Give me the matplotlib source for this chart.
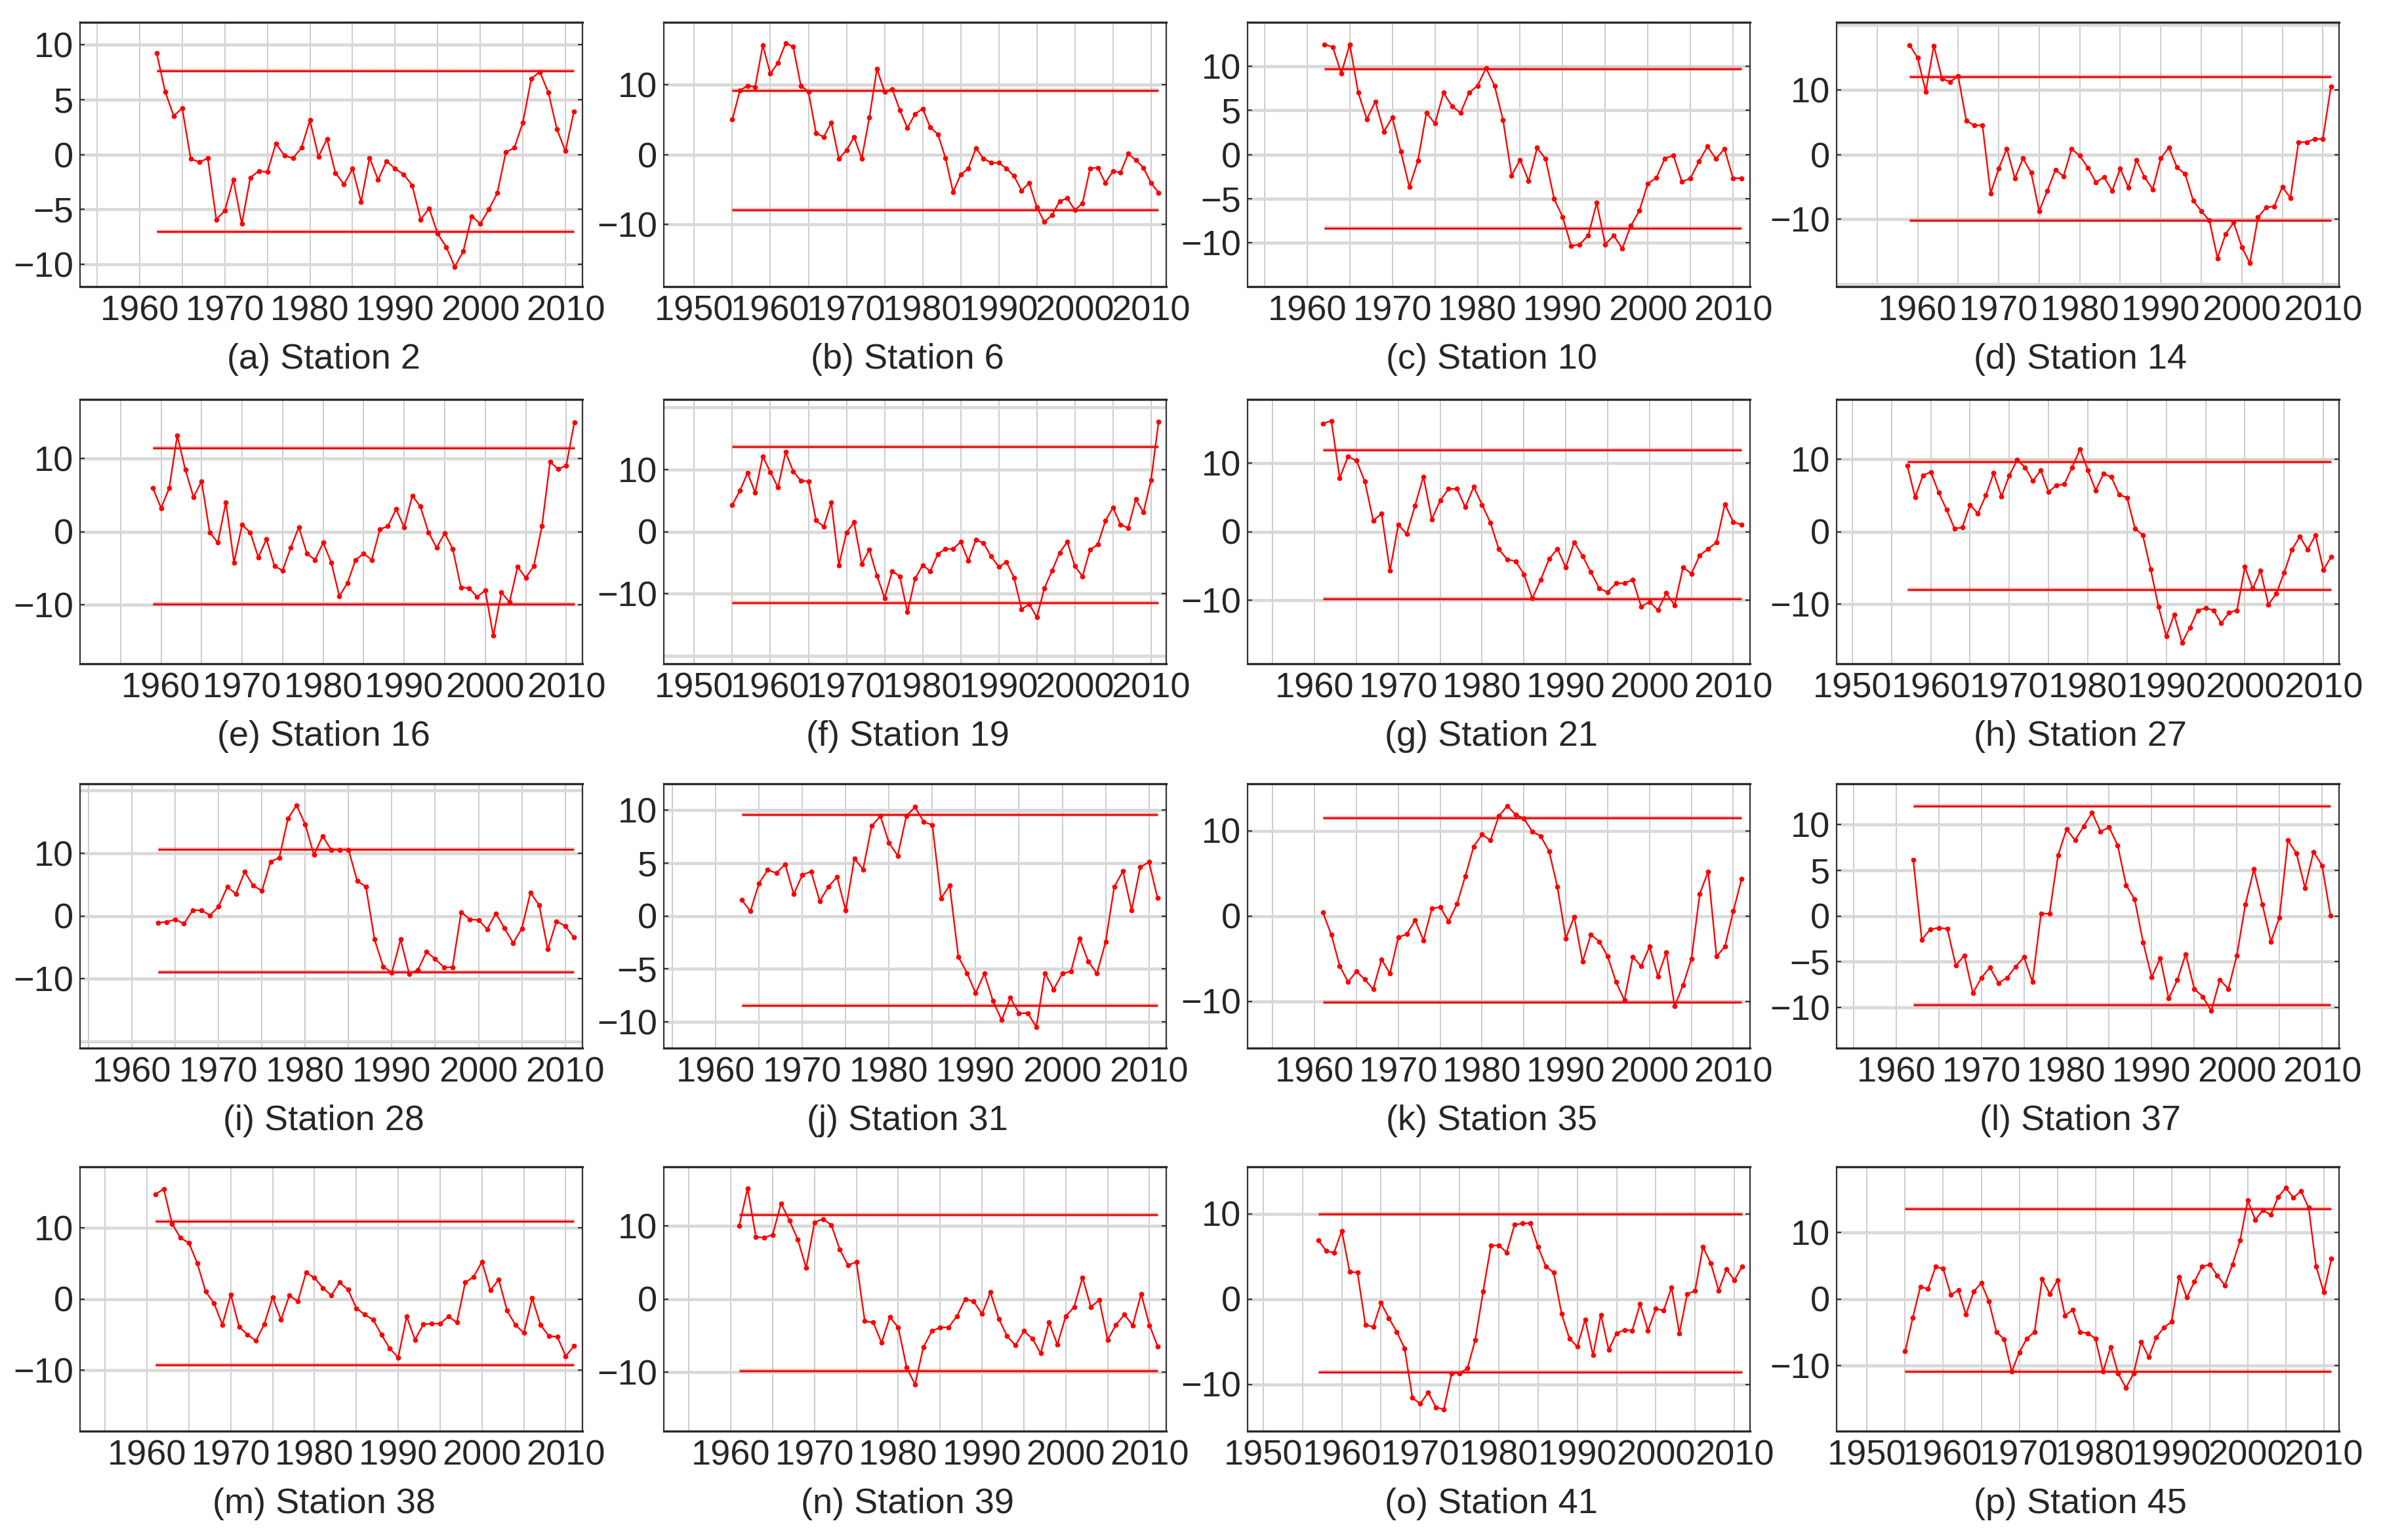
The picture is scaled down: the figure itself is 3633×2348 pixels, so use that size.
#!/usr/bin/env python3
"""
Sequential trend statistic per station (16 panels) with upper / lower threshold lines.
"""

import numpy as np
import matplotlib
matplotlib.use("Agg")
import matplotlib.pyplot as plt

# ----------------------------------------------------------------------
# Data
# ----------------------------------------------------------------------
letters = list("abcdefghijklmnop")
stations = ["2", "6", "10", "14", "16", "19", "21", "27",
            "28", "31", "35", "37", "38", "39", "41", "45"]
start_years = [1962, 1955, 1962, 1959, 1959, 1955, 1961, 1957,
               1963, 1963, 1961, 1962, 1961, 1961, 1957, 1955]
end_year = 2011

upper = [7.6, 9.2, 9.7, 12.0, 11.4, 13.7, 11.9, 9.7,
         10.6, 9.56, 11.5, 12.0, 10.9, 11.5, 10.0, 13.6]
lower = [-7.0, -8.0, -8.4, -10.2, -9.9, -11.5, -9.8, -8.0,
         -8.9, -8.46, -10.1, -9.7, -9.2, -9.8, -8.6, -10.9]

st2 = [9.2, 5.7, 3.5, 4.2, -0.4, -0.7, -0.35, -5.9, -5.1, -2.3, -6.3, -2.1, -1.5, -1.6, 1.0,
       -0.1, -0.35, 0.6, 3.1, -0.2, 1.4, -1.7, -2.7, -1.3, -4.3, -0.3, -2.3, -0.6, -1.3, -1.8,
       -2.8, -5.9, -4.9, -7.2, -8.4, -10.2, -8.8, -5.6, -6.3, -5.0, -3.5, 0.2, 0.6, 2.9, 6.9,
       7.5, 5.6, 2.3, 0.3, 3.9]
st6 = [5.0, 9.2, 9.9, 9.7, 15.7, 11.6, 13.2, 16.0, 15.5, 9.9, 9.0, 3.1, 2.5, 4.6, -0.6,
       0.6, 2.5, -0.6, 5.3, 12.3, 9.0, 9.4, 6.4, 3.8, 5.8, 6.6, 3.9, 2.9, -0.5, -5.4,
       -2.9, -2.0, 0.9, -0.6, -1.2, -1.2, -2.0, -3.1, -5.2, -4.1, -7.6, -9.7, -8.7, -6.7, -6.3,
       -8.0, -7.0, -2.0, -1.9, -4.1, -2.4, -2.6, 0.1, -0.8, -1.9, -4.1, -5.5]
st10 = [12.5, 12.2, 9.2, 12.5, 7.0, 4.0, 6.0, 2.6, 4.2, 0.3, -3.7, -0.7, 4.75, 3.5, 7.0,
        5.5, 4.7, 7.0, 7.8, 9.8, 7.8, 3.9, -2.4, -0.6, -3.0, 0.75, -0.5, -5.05, -7.1, -10.4,
        -10.2, -9.2, -5.5, -10.2, -9.2, -10.7, -8.1, -6.4, -3.3, -2.65, -0.45, -0.1, -3.1, -2.7, -0.8,
        0.9, -0.5, 0.65, -2.7, -2.7]
st14 = [16.9, 14.9, 9.7, 16.8, 11.7, 11.2, 12.1, 5.2, 4.5, 4.5, -6.0, -2.2, 0.9, -3.7, -0.6,
        -2.8, -8.75, -5.6, -2.4, -3.35, 0.85, -0.2, -2.05, -4.3, -3.5, -5.6, -2.2, -5.1, -0.9, -3.5,
        -5.4, -0.6, 1.1, -2.0, -3.0, -7.1, -8.75, -10.2, -16.0, -12.3, -10.5, -14.3, -16.8, -9.7, -8.2,
        -8.0, -5.0, -6.7, 1.9, 1.9, 2.4, 2.4, 10.5]
st16 = [5.9, 3.2, 5.9, 13.1, 8.4, 4.7, 6.85, -0.1, -1.5, 4.0, -4.2, 0.9, -0.1, -3.5, -1.05,
        -4.7, -5.3, -2.2, 0.6, -3.0, -3.85, -1.5, -4.2, -8.8, -7.0, -3.85, -3.0, -3.85, 0.3, 0.75,
        3.05, 0.6, 4.9, 3.4, -0.1, -2.2, -0.2, -2.4, -7.6, -7.7, -8.9, -8.0, -14.2, -8.3, -9.6,
        -4.8, -6.3, -4.7, 0.75, 9.5, 8.5, 9.0, 14.9]
st19 = [4.3, 6.6, 9.45, 6.3, 12.1, 9.6, 7.1, 12.8, 9.7, 8.2, 8.1, 1.8, 0.8, 4.7, -5.4,
        -0.15, 1.5, -5.2, -2.9, -7.1, -10.7, -6.4, -7.2, -13.0, -7.6, -5.4, -6.4, -3.6, -2.8, -2.8,
        -1.65, -4.7, -1.3, -1.85, -4.0, -5.7, -4.9, -7.4, -12.5, -11.7, -13.8, -9.1, -6.3, -3.4, -1.65,
        -5.6, -7.2, -2.9, -2.1, 1.7, 3.9, 1.1, 0.6, 5.2, 3.1, 8.3, 17.7]
st21 = [15.7, 16.1, 7.8, 10.9, 10.3, 7.3, 1.6, 2.6, -5.7, 1.0, -0.35, 3.8, 8.0, 1.8, 4.5,
        6.2, 6.2, 3.55, 6.5, 3.9, 1.3, -2.55, -4.05, -4.3, -6.2, -9.7, -7.0, -4.0, -2.5, -5.2,
        -1.55, -3.55, -5.9, -8.25, -8.8, -7.5, -7.5, -7.0, -10.9, -10.2, -11.4, -8.95, -10.7, -5.2, -6.1,
        -3.45, -2.5, -1.55, 4.0, 1.4, 1.0]
st27 = [9.15, 4.75, 7.8, 8.25, 5.4, 3.05, 0.45, 0.55, 3.7, 2.5, 5.0, 8.1, 4.85, 7.8, 9.9,
        8.9, 7.0, 8.5, 5.5, 6.4, 6.55, 8.9, 11.4, 8.5, 5.7, 8.0, 7.55, 5.1, 4.7, 0.45,
        -0.5, -5.2, -10.4, -14.5, -11.5, -15.4, -13.3, -10.9, -10.6, -10.9, -12.7, -11.2, -10.9, -4.9, -7.9,
        -5.4, -10.1, -8.6, -5.7, -2.5, -0.7, -2.5, -0.5, -5.3, -3.5]
st28 = [-1.05, -0.95, -0.55, -1.25, 0.9, 0.9, 0.1, 1.5, 4.6, 3.5, 7.0, 4.8, 4.0, 8.65, 9.25,
        15.45, 17.6, 14.5, 9.7, 12.7, 10.5, 10.5, 10.5, 5.55, 4.65, -3.75, -8.05, -9.0, -3.75, -9.2,
        -8.6, -5.7, -6.85, -8.15, -8.15, 0.6, -0.55, -0.65, -2.1, 0.4, -1.95, -4.3, -2.0, 3.7, 1.7,
        -5.3, -0.85, -1.6, -3.4]
st31 = [1.5, 0.45, 3.1, 4.35, 4.05, 4.9, 2.05, 3.9, 4.2, 1.4, 2.75, 3.7, 0.5, 5.45, 4.4,
        8.5, 9.45, 6.9, 5.7, 9.45, 10.3, 8.9, 8.6, 1.65, 2.9, -3.85, -5.4, -7.3, -5.45, -8.05,
        -9.85, -7.75, -9.2, -9.2, -10.5, -5.4, -6.95, -5.45, -5.25, -2.15, -4.3, -5.45, -2.45, 2.75, 4.25,
        0.55, 4.6, 5.1, 1.7]
st35 = [0.4, -2.2, -5.85, -7.75, -6.5, -7.45, -8.6, -5.1, -6.75, -2.5, -2.15, -0.5, -2.85, 0.85, 1.05,
        -0.65, 1.4, 4.65, 8.15, 9.55, 8.85, 11.7, 12.9, 11.9, 11.4, 9.9, 9.35, 7.6, 3.4, -2.65,
        -0.1, -5.35, -2.2, -3.0, -4.75, -7.75, -9.9, -4.8, -5.9, -3.6, -7.1, -4.25, -10.6, -8.1, -5.05,
        2.6, 5.2, -4.75, -3.6, 0.55, 4.35]
st37 = [6.1, -2.6, -1.45, -1.3, -1.4, -5.4, -4.3, -8.4, -6.75, -5.6, -7.3, -6.75, -5.55, -4.5, -7.2,
        0.25, 0.25, 6.6, 9.45, 8.25, 9.75, 11.25, 9.2, 9.65, 7.7, 3.35, 1.8, -2.9, -6.7, -4.6,
        -9.0, -7.0, -4.15, -7.95, -8.8, -10.35, -6.95, -7.95, -4.3, 1.25, 5.1, 1.25, -2.8, -0.15, 8.25,
        6.8, 3.05, 7.0, 5.5, 0.05]
st38 = [14.65, 15.4, 10.5, 8.55, 7.85, 5.0, 1.05, -0.6, -3.6, 0.6, -3.9, -5.0, -5.85, -3.55, 0.25,
        -2.9, 0.5, -0.35, 3.7, 2.95, 1.55, 0.5, 2.3, 1.3, -1.3, -2.2, -2.9, -5.0, -6.95, -8.2,
        -2.45, -5.7, -3.55, -3.45, -3.45, -2.45, -3.3, 2.3, 3.1, 5.2, 1.2, 2.75, -1.65, -3.65, -4.75,
        0.1, -3.65, -5.2, -5.3, -8.0, -6.6]
st39 = [10.0, 15.15, 8.5, 8.4, 8.8, 13.1, 10.75, 8.15, 4.25, 10.5, 10.95, 10.15, 6.8, 4.6, 5.1,
        -3.05, -3.2, -6.0, -2.5, -3.9, -9.4, -11.7, -6.6, -4.4, -3.9, -3.9, -2.35, 0.0, -0.35, -2.05,
        0.9, -2.7, -5.1, -6.35, -4.4, -5.4, -7.45, -3.2, -6.25, -2.35, -1.1, 2.95, -1.1, -0.15, -5.6,
        -3.55, -2.15, -3.6, 0.7, -3.6, -6.55]
st41 = [6.9, 5.65, 5.4, 8.0, 3.2, 3.1, -3.0, -3.3, -0.45, -2.25, -3.85, -5.8, -11.6, -12.3, -10.95,
        -12.7, -12.95, -8.7, -8.7, -8.15, -4.8, 0.85, 6.25, 6.3, 5.45, 8.7, 8.85, 8.9, 6.1, 3.8,
        3.1, -1.75, -4.65, -5.6, -2.4, -6.6, -1.85, -5.95, -4.0, -3.65, -3.7, -0.6, -3.7, -1.15, -1.35,
        1.35, -4.0, 0.6, 0.95, 6.1, 4.2, 1.0, 3.5, 2.2, 3.8]
st45 = [-7.9, -2.85, 1.85, 1.5, 4.85, 4.55, 0.65, 1.3, -2.35, 1.1, 2.4, -0.35, -5.0, -6.05, -10.95,
        -8.0, -5.95, -4.95, 3.0, 0.75, 2.8, -2.5, -1.65, -4.95, -5.2, -5.95, -10.95, -7.25, -11.25, -13.4,
        -11.25, -6.45, -8.75, -5.75, -4.3, -3.45, 3.35, 0.2, 2.6, 4.85, 5.2, 3.55, 2.05, 5.2, 8.8,
        14.85, 11.9, 13.4, 12.65, 15.35, 16.7, 15.25, 16.25, 13.75, 4.85, 1.0, 6.05]

series = [st2, st6, st10, st14, st16, st19, st21, st27,
          st28, st31, st35, st37, st38, st39, st41, st45]

# ----------------------------------------------------------------------
# Layout (pixels on a 3633 x 2348 canvas)
# ----------------------------------------------------------------------
W, H = 3633, 2348
col_left = [122, 1012, 1902, 2800]
col_width = 766
row_top = [34, 609, 1195, 1779]
row_height = 403

# symmetric y-limits and y-tick step per panel
ylims = [12, 19, 15, 20.4, 18, 21.3, 19.2, 18.3, 21, 12.5, 15.5, 14.4, 18.5, 18.1, 15.5, 19.9]
ysteps = [5, 10, 5, 10, 10, 10, 10, 10, 10, 5, 10, 5, 10, 10, 10, 10]

plt.rcParams["font.family"] = ["Liberation Sans", "DejaVu Sans"]
text_color = "#262626"

fig = plt.figure(figsize=(W / 100, H / 100), dpi=100)

for i in range(16):
    r, c = divmod(i, 4)
    rect = [col_left[c] / W, 1 - (row_top[r] + row_height) / H,
            col_width / W, row_height / H]
    ax = fig.add_axes(rect)

    years = np.arange(start_years[i], end_year + 1)
    vals = np.array(series[i])

    # threshold lines (soft halo + core)
    for lvl in (upper[i], lower[i]):
        ax.plot([years[0], years[-1]], [lvl, lvl], color="#ff8080", lw=4.4,
                alpha=0.55, solid_capstyle="butt", zorder=3)
        ax.plot([years[0], years[-1]], [lvl, lvl], color="#d90000", lw=1.8,
                solid_capstyle="butt", zorder=3)

    ax.plot(years, vals, color="#ff0000", lw=1.7, marker="o", ms=5.6,
            markeredgewidth=0, zorder=4)

    # axes ranges
    x_left = start_years[i] - 9
    ax.set_xlim(x_left, 2012)
    yl = ylims[i]
    ax.set_ylim(-yl, yl)

    # x ticks: labels every decade, grid every 5 years
    decades = [d for d in range(1950, 2011, 10) if d > x_left + 0.5]
    fives = [f for f in range(1950, 2011, 5) if f >= x_left and f not in decades]
    ax.set_xticks(decades)
    ax.set_xticks(fives, minor=True)

    st = ysteps[i]
    ax.set_yticks(np.arange(-10, 10.1, st))
    extra = [v for v in (-20, 20) if abs(v) < yl]
    ax.set_yticks(extra, minor=True)

    ax.grid(axis="x", which="both", color="#c4c4c4", lw=1.2, zorder=0)
    ax.grid(axis="y", which="both", color="#d9d9d9", lw=3.4, zorder=0)
    ax.set_axisbelow(True)

    ax.tick_params(axis="x", which="both", length=0, pad=9,
                   labelsize=39, labelcolor=text_color)
    ax.tick_params(axis="y", which="major", direction="in", length=5, width=1.5,
                   left=True, right=True, color="#333333", pad=7,
                   labelsize=39, labelcolor=text_color)
    ax.tick_params(axis="y", which="minor", length=0)

    for side in ("left", "right"):
        ax.spines[side].set_color("#333333")
        ax.spines[side].set_linewidth(1.6)
    for side in ("top", "bottom"):
        ax.spines[side].set_color("#2a2a2a")
        ax.spines[side].set_linewidth(2.4)

    ax.text(0.485, -0.275, f"({letters[i]}) Station {stations[i]}",
            transform=ax.transAxes, ha="center", va="center",
            fontsize=39, color=text_color)

fig.savefig("out.png", dpi=100)
print("Saved out.png")
